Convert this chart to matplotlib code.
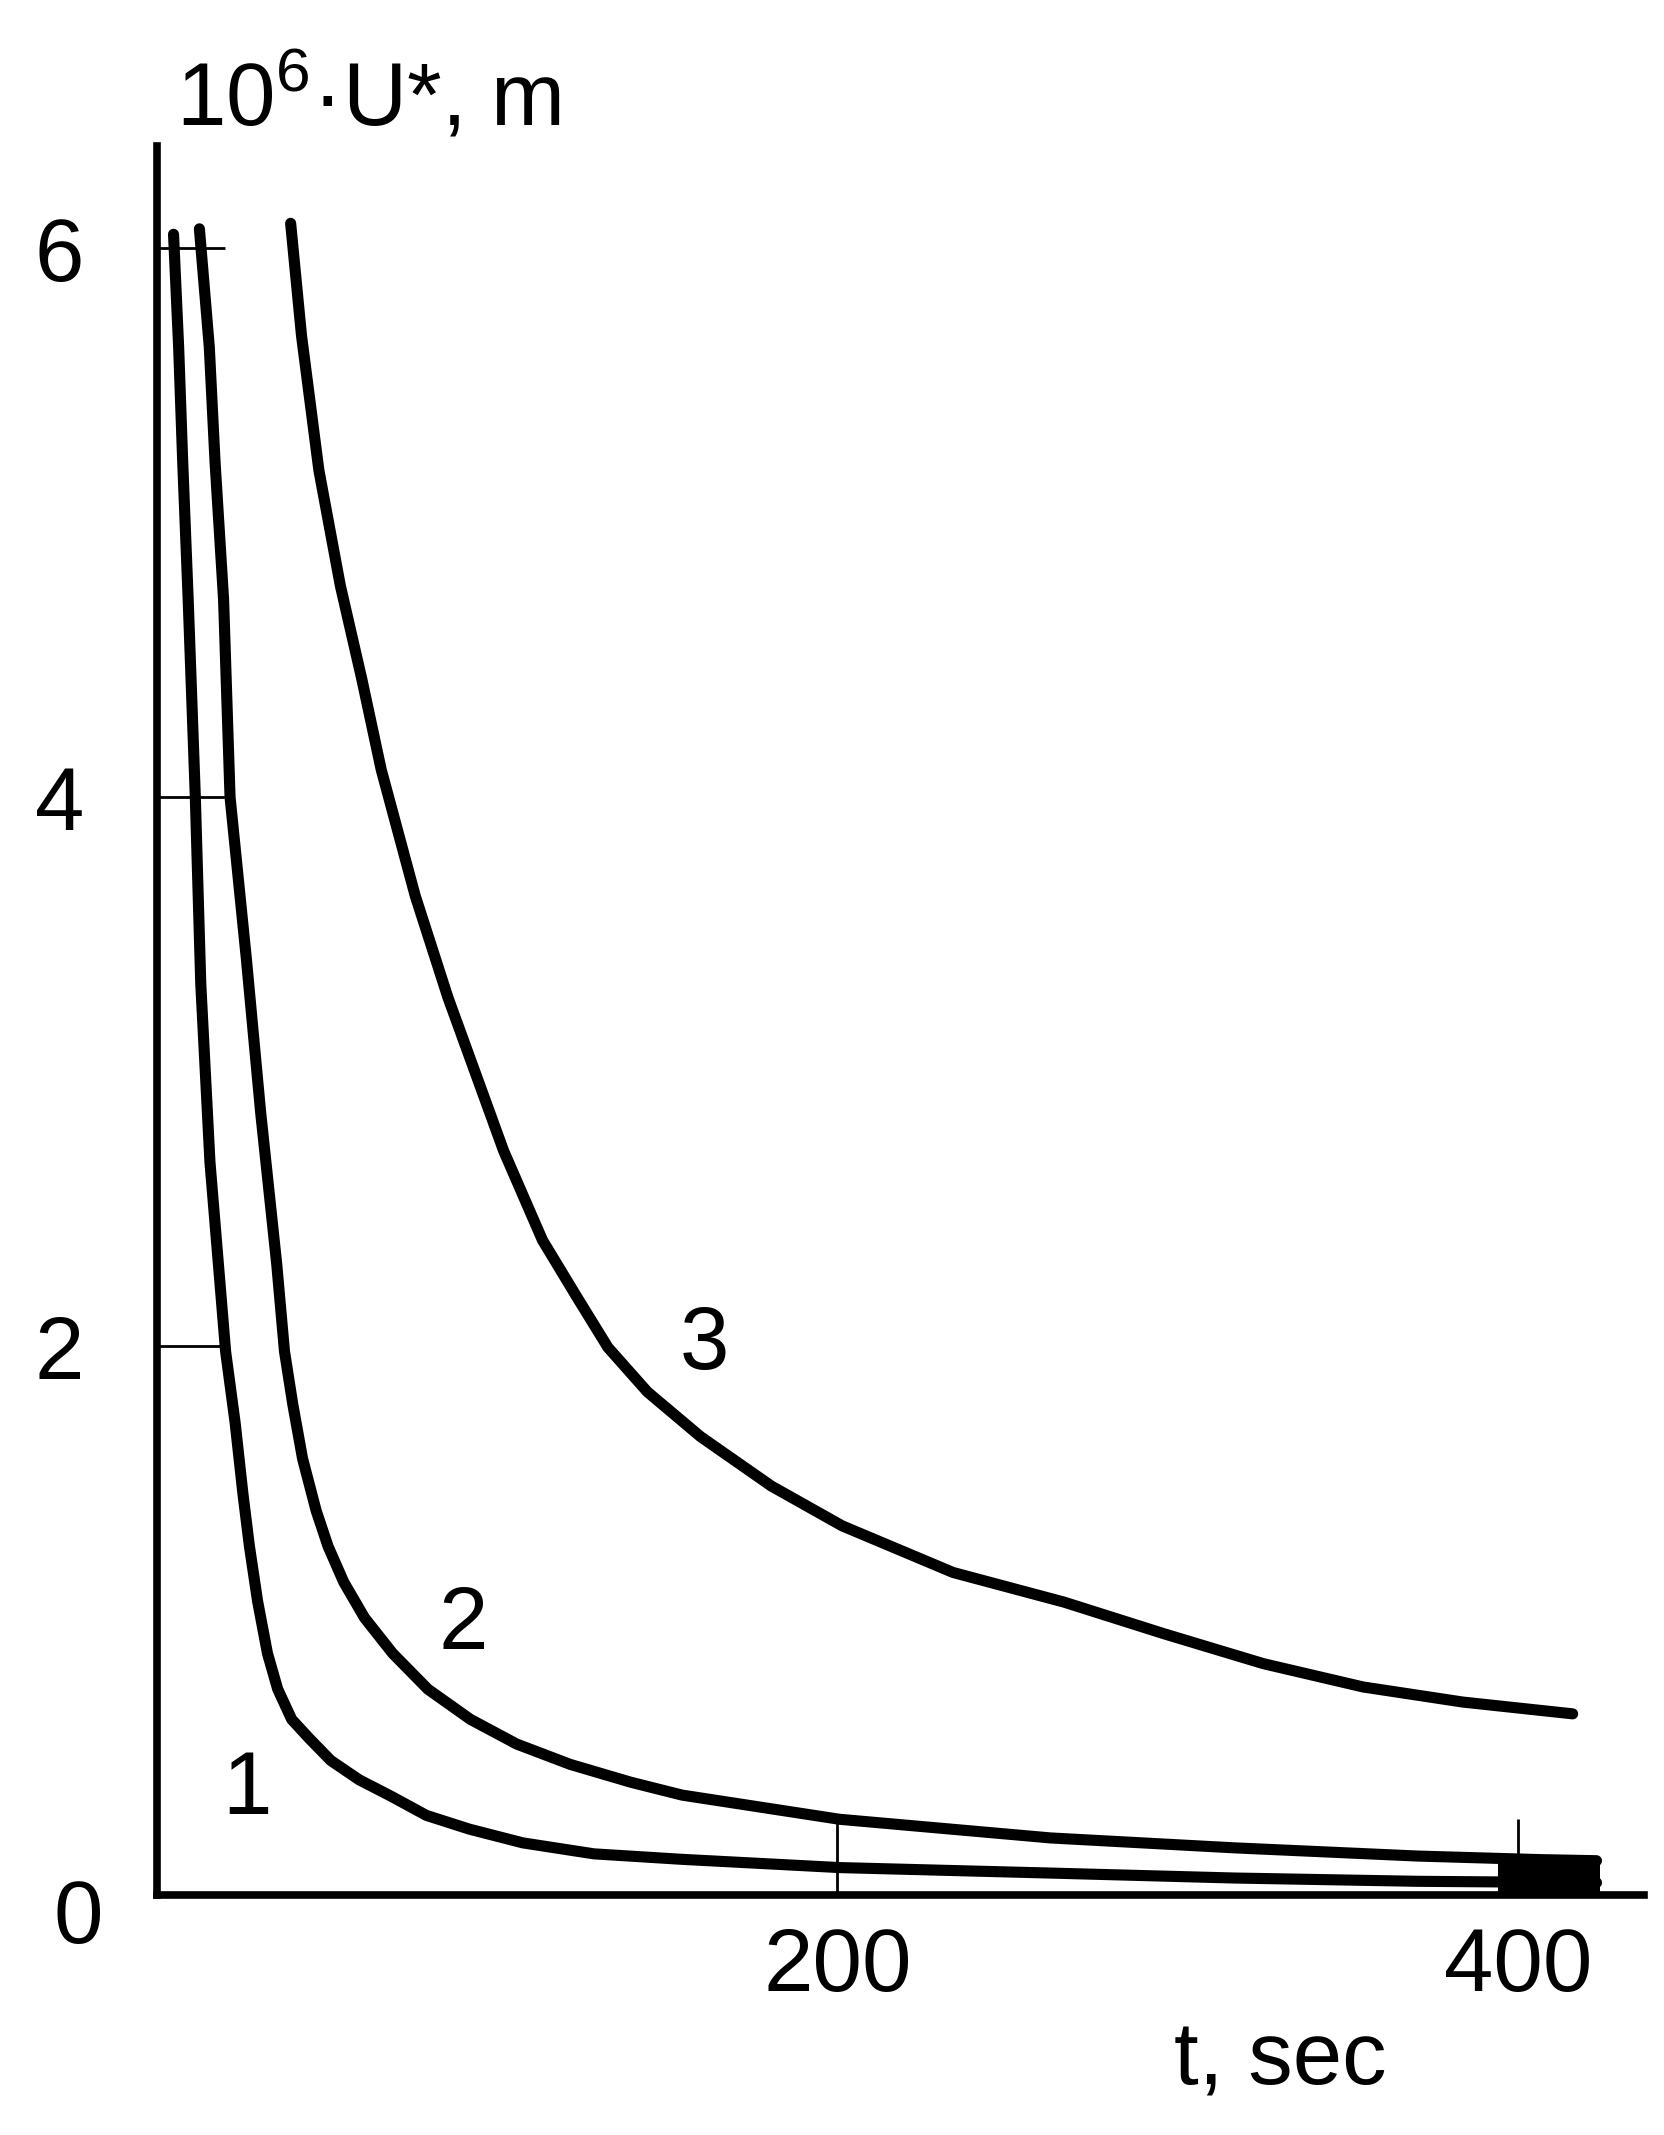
import matplotlib
matplotlib.use("Agg")
import matplotlib.pyplot as plt

plt.rcParams['font.family'] = ['Liberation Sans', 'DejaVu Sans']
plt.rcParams['mathtext.fontset'] = 'custom'
plt.rcParams['mathtext.rm'] = 'Liberation Sans'

# values: t in sec, U in 10^-6 m
t1 = [5, 6.5, 7.7, 9.3, 11.4, 13, 15.7, 20.3, 23.1, 25.4, 27.3, 29.7, 32.6, 35.6, 39.7, 44.9, 51.2,
      59.5, 68.9, 79.3, 91.9, 107.6, 128.5, 154.4, 200.6, 262.6, 316.4, 370.4, 423]
u1 = [6.05, 5.64, 5.22, 4.72, 4.0, 3.32, 2.67, 1.98, 1.72, 1.46, 1.27, 1.07, 0.88, 0.75, 0.64, 0.57, 0.49,
      0.42, 0.36, 0.29, 0.24, 0.19, 0.15, 0.13, 0.10, 0.08, 0.062, 0.05, 0.045]

t2 = [12.6, 15.5, 17.2, 19.7, 21.6, 26.4, 30.6, 35.3, 37.6, 40, 42.9, 46.9, 50.4, 55, 61.1, 69.4, 79.7,
      92.2, 105.8, 121.5, 139.3, 154.4, 200.6, 262.6, 316.4, 370.4, 406.4, 423]
u2 = [6.07, 5.64, 5.22, 4.72, 4.0, 3.41, 2.85, 2.30, 1.98, 1.79, 1.59, 1.40, 1.27, 1.14, 1.01, 0.88, 0.75,
      0.64, 0.55, 0.476, 0.411, 0.364, 0.276, 0.208, 0.172, 0.142, 0.129, 0.125]

t3 = [39.4, 42.6, 47.7, 54, 60.3, 66, 76, 85.6, 102, 113.4, 123.7, 132.6, 144.2, 159.8, 180.6,
      201.4, 234, 266.6, 295.9, 325.1, 354.4, 383.7, 416]
u3 = [6.09, 5.68, 5.19, 4.77, 4.43, 4.10, 3.64, 3.27, 2.71, 2.385, 2.174, 1.995, 1.833, 1.67, 1.49,
      1.345, 1.175, 1.067, 0.952, 0.843, 0.758, 0.703, 0.66]

# dark smudge where curves 1 and 2 run together at the end
blob_t = [394, 424]
blob_top = [0.14, 0.14]

curve_labels = ['1', '2', '3']
label_t = [26.6, 90, 161]
label_u = [0.38, 0.98, 2.0]

xticks = [200, 400]
yticks = [2, 4, 6]

fig = plt.figure(figsize=(16.65, 21.35), dpi=100)
ax = fig.add_axes([0.094, 0.1124, 0.8935, 0.819])

for t, u in [(t1, u1), (t2, u2), (t3, u3)]:
    ax.plot(t, u, color='black', lw=8, solid_capstyle='round', solid_joinstyle='round')
ax.fill_between(blob_t, 0, blob_top, color='black', lw=0)

for s, x, y in zip(curve_labels, label_t, label_u):
    ax.text(x, y, s, fontsize=64, ha='center', va='center')

ax.set_xlim(0, 437)
ax.set_ylim(0, 6.37)
ax.spines['top'].set_visible(False)
ax.spines['right'].set_visible(False)
ax.spines['left'].set_linewidth(5.5)
ax.spines['bottom'].set_linewidth(5.5)
ax.set_xticks(xticks)
ax.set_yticks(yticks)
ax.tick_params(axis='x', direction='in', length=55, width=2, pad=22, labelsize=64)
ax.tick_params(axis='y', direction='in', length=49, width=2, pad=52, labelsize=64)

ax.text(-23, -0.09, '0', fontsize=64, ha='center', va='center', clip_on=False)
fig.text(368 / 1665, 1 - 98 / 2135, r'10$^{6}$·U*, m', fontsize=64, ha='center', va='center')
fig.text(1280 / 1665, 1 - 2062 / 2135, 't, sec', fontsize=64, ha='center', va='center')

fig.savefig('out.png', dpi=100, facecolor='white')
